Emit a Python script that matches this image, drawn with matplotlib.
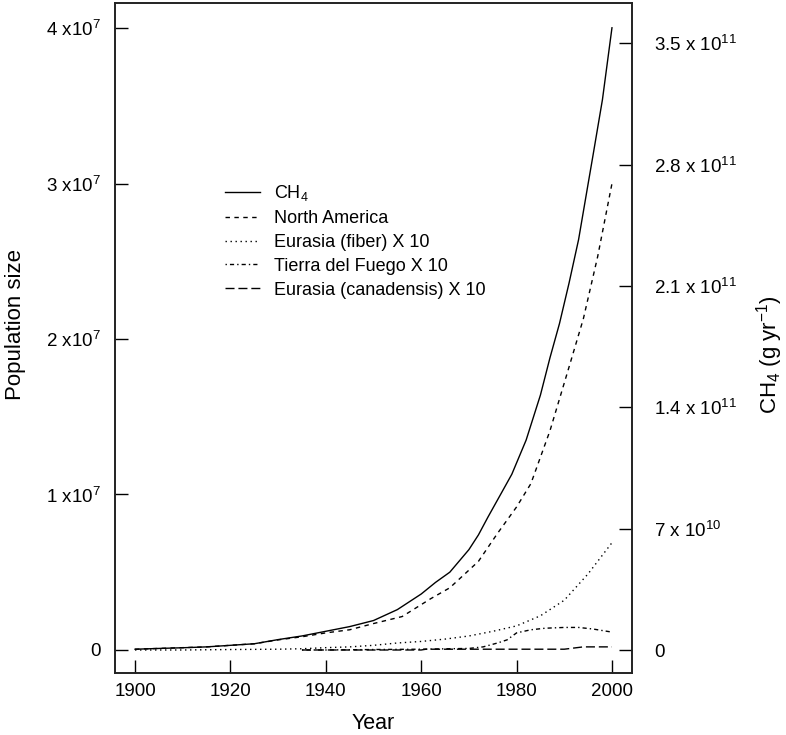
import matplotlib
matplotlib.use("Agg")
import matplotlib.pyplot as plt
import numpy as np

plt.rcParams['font.family'] = ['Liberation Sans', 'DejaVu Sans']
plt.rcParams['mathtext.fontset'] = 'custom'
plt.rcParams['mathtext.rm'] = 'Liberation Sans'
plt.rcParams['mathtext.it'] = 'Liberation Sans:italic'
plt.rcParams['mathtext.bf'] = 'Liberation Sans:bold'

# ---- data ----
# CH4 emissions (g/yr), right axis
years_ch4 = [1900, 1905, 1910, 1915, 1920, 1925, 1930, 1935, 1940, 1945, 1950,
             1955, 1960, 1963, 1966, 1970, 1972, 1974, 1977, 1979, 1982, 1985, 1987,
             1989, 1991, 1993, 1995, 1996, 1998, 2000]
ch4 = [0.045e10, 0.09e10, 0.13e10, 0.18e10, 0.27e10, 0.36e10, 0.60e10, 0.81e10,
       1.08e10, 1.35e10, 1.70e10, 2.33e10, 3.23e10, 3.90e10, 4.49e10, 5.79e10,
       6.64e10, 7.67e10, 9.15e10, 10.14e10, 12.11e10, 14.71e10, 16.86e10, 18.84e10,
       21.17e10, 23.68e10, 26.9e10, 28.5e10, 31.75e10, 35.9e10]
# North America population
years_na = [1900, 1905, 1910, 1915, 1920, 1925, 1930, 1935, 1940, 1945, 1950,
            1956, 1962, 1966, 1972, 1976, 1980, 1983, 1987, 1991, 1994, 1997, 2000]
north_america = [0.005e7, 0.01e7, 0.015e7, 0.02e7, 0.03e7, 0.04e7, 0.065e7, 0.085e7,
                 0.11e7, 0.13e7, 0.17e7, 0.215e7, 0.33e7, 0.40e7, 0.57e7, 0.75e7,
                 0.92e7, 1.07e7, 1.41e7, 1.82e7, 2.13e7, 2.53e7, 3.0e7]
# Eurasia (fiber) x 10
years_fiber = [1900, 1910, 1920, 1930, 1935, 1940, 1945, 1950, 1955, 1960, 1965,
               1970, 1975, 1980, 1985, 1990, 1995, 2000]
eurasia_fiber = [0.0, 0.0, 0.003e7, 0.005e7, 0.008e7, 0.015e7, 0.02e7, 0.03e7,
                 0.045e7, 0.055e7, 0.07e7, 0.09e7, 0.12e7, 0.155e7, 0.22e7,
                 0.32e7, 0.49e7, 0.69e7]
# Tierra del Fuego x 10
years_tdf = [1935, 1940, 1950, 1960, 1970, 1973, 1976, 1978, 1980, 1983, 1986,
             1990, 1993, 1996, 1998, 2000]
tierra_del_fuego = [0.0, 0.0, 0.003e7, 0.005e7, 0.01e7, 0.02e7, 0.045e7, 0.065e7,
                    0.11e7, 0.13e7, 0.14e7, 0.145e7, 0.145e7, 0.135e7, 0.125e7, 0.115e7]
# Eurasia (canadensis) x 10
years_can = [1935, 1960, 1961, 1990, 1994, 2000]
eurasia_canadensis = [0.0, 0.0, 0.005e7, 0.005e7, 0.02e7, 0.02e7]

left_ticks = [0, 1e7, 2e7, 3e7, 4e7]
left_labels = ['0', r'1 x10$^{7}$', r'2 x10$^{7}$', r'3 x10$^{7}$', r'4 x10$^{7}$']
right_ticks = [0, 7e10, 1.4e11, 2.1e11, 2.8e11, 3.5e11]
right_labels = ['0', r'7 x 10$^{10}$', r'1.4 x 10$^{11}$', r'2.1 x 10$^{11}$',
                r'2.8 x 10$^{11}$', r'3.5 x 10$^{11}$']
x_ticks = [1900, 1920, 1940, 1960, 1980, 2000]

# ---- figure ----
fig = plt.figure(figsize=(7.86, 7.35), dpi=100)
ax = fig.add_axes([115/786, 1-673/735, (632-115)/786, (673-3)/735])
ax2 = ax.twinx()

lw = 1.0
h_ch4, = ax2.plot(years_ch4, ch4, color='black', lw=lw, linestyle='-', label='CH$_4$')
h_na, = ax.plot(years_na, north_america, color='black', lw=lw, linestyle=(0, (3.2, 3.2)),
                label='North America')
h_fi, = ax.plot(years_fiber, eurasia_fiber, color='black', lw=lw, linestyle=(0, (1, 2.6)),
                label='Eurasia (fiber) X 10')
h_td, = ax.plot(years_tdf, tierra_del_fuego, color='black', lw=lw,
                linestyle=(0, (1, 2.2, 3, 2.2)), label='Tierra del Fuego X 10')
h_ca, = ax.plot(years_can, eurasia_canadensis, color='black', lw=lw,
                linestyle=(0, (6.5, 2.8)), label='Eurasia (canadensis) X 10')

ax.set_xlim(1895.8, 2004.2)
ax.set_ylim(-0.148e7, 4.161e7)
ax2.set_ylim(-1.327e10, 37.33e10)

ax.set_xticks(x_ticks)
ax.set_xticklabels([str(x) for x in x_ticks])
ax.set_yticks(left_ticks)
ax.set_yticklabels(left_labels)
ax2.set_yticks(right_ticks)
ax2.set_yticklabels(right_labels)

ax.tick_params(axis='both', direction='in', length=9.5, width=1.0, labelsize=13.5,
               right=False, top=False)
ax.tick_params(axis='y', pad=10.5)
ax.tick_params(axis='x', pad=7)
ax2.tick_params(axis='y', direction='in', length=9.5, width=1.0, labelsize=13.5, pad=16)

for a in (ax, ax2):
    for s in a.spines.values():
        s.set_linewidth(1.2)
        s.set_color('#222222')

ax.set_xlabel('Year', fontsize=15.5)
ax.xaxis.set_label_coords(0.499, -0.06)
ax.set_ylabel('Population size', fontsize=16, va='center', ha='center')
ax.yaxis.set_label_coords(-0.193, 0.52)
ax2.set_ylabel('CH$_4$ (g yr$^{-1}$)', fontsize=16, va='center', ha='center')
ax2.yaxis.set_label_coords(1.267, 0.475)

leg = ax.legend(handles=[h_ch4, h_na, h_fi, h_td, h_ca], loc='upper left',
                bbox_to_anchor=(0.213, 0.731), frameon=False, fontsize=13,
                handlelength=1.95, handletextpad=0.75, labelspacing=0.38,
                borderpad=0, borderaxespad=0)

fig.savefig('out.png', dpi=100)
